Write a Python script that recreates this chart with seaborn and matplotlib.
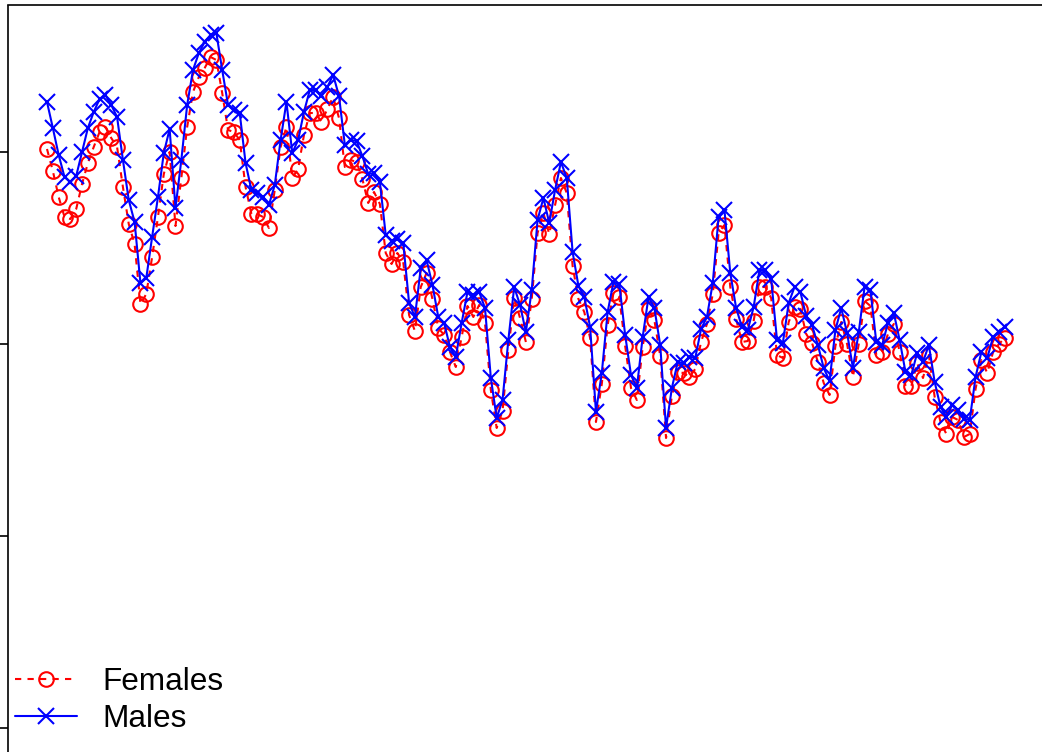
import numpy as np
import pandas as pd
import matplotlib
matplotlib.use("Agg")
import matplotlib.pyplot as plt
import seaborn as sns

females = [651, 629, 603, 583, 581, 591, 616, 637, 653, 668, 673, 662, 653, 613, 576, 556, 496, 506, 543, 583,
           626, 648, 574, 622, 673, 708, 723, 732, 743, 740, 707, 670, 668, 660, 613, 586, 586, 583, 572, 610,
           653, 673, 622, 631, 665, 687, 687, 678, 691, 703, 682, 633, 640, 638, 621, 597, 608, 596, 547, 536,
           547, 538, 485, 469, 513, 527, 501, 472, 465, 448, 433, 463, 494, 483, 495, 477, 410, 372, 389, 450,
           502, 482, 458, 501, 567, 587, 566, 595, 622, 607, 534, 501, 488, 462, 378, 416, 475, 507, 503, 454,
           412, 400, 453, 491, 480, 444, 362, 404, 428, 427, 423, 431, 458, 476, 506, 567, 575, 513, 481, 458,
           459, 479, 513, 513, 502, 445, 442, 478, 493, 491, 466, 457, 438, 417, 405, 454, 478, 456, 423, 456,
           499, 494, 445, 448, 466, 476, 448, 414, 414, 437, 422, 445, 403, 378, 366, 383, 380, 363, 366, 411,
           440, 427, 448, 456, 462]

males = [698, 672, 645, 623, 618, 624, 648, 672, 688, 701, 705, 695, 683, 640, 600, 578, 517, 522, 563, 603,
         647, 671, 592, 640, 695, 730, 747, 758, 765, 767, 730, 695, 690, 687, 637, 610, 607, 603, 595, 615,
         660, 698, 647, 660, 688, 710, 710, 704, 713, 725, 704, 655, 660, 659, 644, 626, 627, 618, 565, 559,
         561, 557, 497, 483, 532, 540, 515, 483, 477, 453, 443, 477, 508, 505, 508, 492, 422, 382, 400, 460,
         513, 495, 468, 510, 580, 602, 577, 610, 638, 622, 548, 514, 503, 473, 388, 427, 488, 518, 516, 465,
         425, 412, 463, 503, 492, 455, 372, 412, 438, 437, 443, 442, 471, 483, 517, 583, 590, 527, 492, 473,
         470, 493, 530, 530, 521, 460, 457, 497, 513, 508, 484, 475, 455, 432, 419, 470, 492, 467, 432, 468,
         513, 510, 458, 455, 477, 487, 460, 428, 425, 447, 438, 455, 418, 393, 383, 395, 390, 381, 380, 423,
         448, 442, 463, 468, 473]

labels = ["Females", "Males"]
yticks = [72, 264, 456, 648]

t = np.arange(1, len(females) + 1)
df_f = pd.DataFrame({"t": t, "value": females})
df_m = pd.DataFrame({"t": t, "value": males})

sns.set_theme(style="white")
plt.rcParams['font.family'] = ['Liberation Sans', 'DejaVu Sans']

W, H = 1042, 752
fig = plt.figure(figsize=(W / 100, H / 100), dpi=100)
left_px, top_px, right_px, bottom_px = 8, 5.5, 1070, 780
ax = fig.add_axes([left_px / W, 1 - bottom_px / H, (right_px - left_px) / W, (bottom_px - top_px) / H])

sns.lineplot(data=df_f, x="t", y="value", ax=ax, color="red", linewidth=1.5,
             linestyle=(0, (3, 3)), marker="o", markersize=10.5, markerfacecolor="none",
             markeredgecolor="red", markeredgewidth=1.5, label=labels[0])
sns.lineplot(data=df_m, x="t", y="value", ax=ax, color="blue", linewidth=1.5,
             marker="x", markersize=11, markeredgewidth=1.5, markeredgecolor="blue",
             label=labels[1])

px_per_pt = 5.84
x_first = 47
ax.set_xlim(1 + (left_px - x_first) / px_per_pt, 1 + (right_px - x_first) / px_per_pt)
ax.set_ylim(800 - bottom_px, 800 - top_px)

ax.set_yticks(yticks)
ax.set_yticklabels([])
ax.set_xticks([])
ax.set_xlabel("")
ax.set_ylabel("")
ax.tick_params(axis="y", direction="out", length=6, width=1.2, color="black", left=True)
for s in ax.spines.values():
    s.set_color("black")
    s.set_linewidth(1.2)

leg = ax.legend(loc="lower left", bbox_to_anchor=(9 / W, 12 / H), bbox_transform=fig.transFigure,
                frameon=False, fontsize=22.7, handlelength=1.95, handletextpad=0.8,
                labelspacing=0.2, borderaxespad=0, borderpad=0.2)
for txt in leg.get_texts():
    txt.set_color("black")

fig.savefig("out.png", dpi=100)
